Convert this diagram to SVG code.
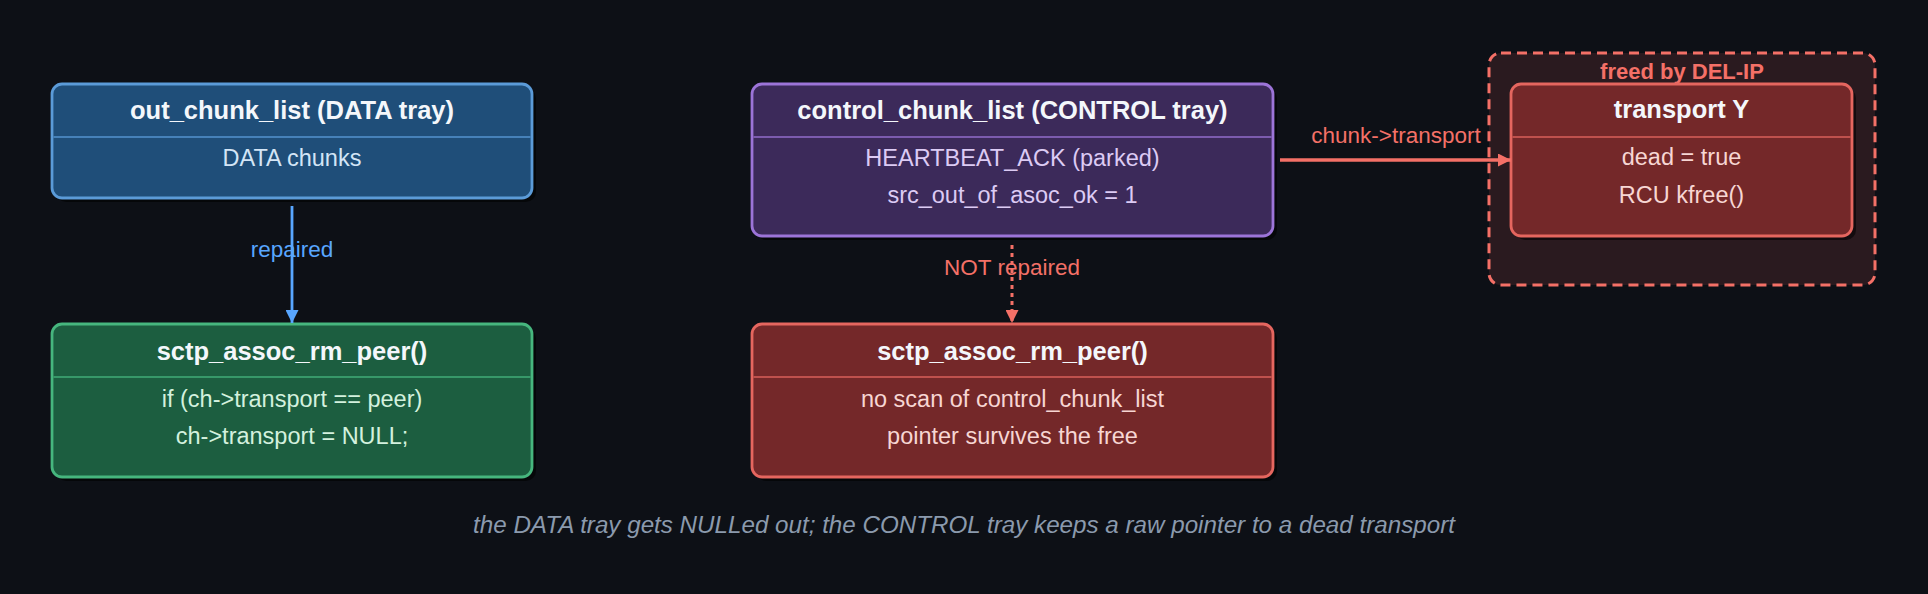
<svg xmlns="http://www.w3.org/2000/svg" width="1928" height="594" viewBox="0 0 1928 594">
<style>
  text { font-family: "Liberation Sans", Arial, sans-serif; text-anchor: middle; }
  .title { font-size: 25.5px; font-weight: bold; fill: #f4f7fb; }
  .body { font-size: 23.5px; }
  .shadow { fill: #000000; opacity: 0.55; }
  .blue .box { fill: #1f4e79; stroke: #5b9bd8; }
  .blue .div { stroke: #5b9bd8; }
  .blue .body { fill: #d3e5f6; }
  .green .box { fill: #1c5e40; stroke: #46b67e; }
  .green .div { stroke: #46b67e; }
  .green .body { fill: #d3f1de; }
  .purple .box { fill: #3c2a5a; stroke: #9c74d8; }
  .purple .div { stroke: #9c74d8; }
  .purple .body { fill: #dccbf4; }
  .red .box { fill: #742829; stroke: #e5665f; }
  .red .div { stroke: #e5665f; }
  .red .body { fill: #f7d6d3; }
  .box { stroke-width: 2.8; }
  .div { stroke-width: 1.5; opacity: 0.9; }
  .elabel { font-size: 22.5px; }
</style>
<defs>
  <marker id="arrBlue" markerUnits="userSpaceOnUse" markerWidth="13" markerHeight="13" refX="13" refY="6.5" orient="auto">
    <path d="M0,0 L13,6.5 L0,13 z" fill="#58a6ff"/>
  </marker>
  <marker id="arrRed" markerUnits="userSpaceOnUse" markerWidth="13" markerHeight="13" refX="13" refY="6.5" orient="auto">
    <path d="M0,0 L13,6.5 L0,13 z" fill="#f47067"/>
  </marker>
</defs>
<rect width="1928" height="594" fill="#0d1016"/>

<g id="group-freed">
  <rect x="1489" y="53" width="386" height="232" rx="12" fill="#2a1a1f" stroke="#f47067" stroke-width="3" stroke-dasharray="10 6"/>
  <text x="1682" y="79" style="font-size:22px;font-weight:bold;fill:#f47067">freed by DEL-IP</text>
</g>

<g id="node-out-chunk-list" class="blue">
  <rect class="shadow" x="56" y="88" width="480" height="114" rx="10"/>
  <rect class="box" x="52" y="84" width="480" height="114" rx="10"/>
  <line class="div" x1="53.5" y1="137" x2="530.5" y2="137"/>
  <text class="title" x="292" y="119">out_chunk_list (DATA tray)</text>
  <text class="body" x="292" y="166">DATA chunks</text>
</g>

<g id="node-rm-peer-data" class="green">
  <rect class="shadow" x="56" y="328" width="480" height="153" rx="10"/>
  <rect class="box" x="52" y="324" width="480" height="153" rx="10"/>
  <line class="div" x1="53.5" y1="377" x2="530.5" y2="377"/>
  <text class="title" x="292" y="360">sctp_assoc_rm_peer()</text>
  <text class="body" x="292" y="407">if (ch-&gt;transport == peer)</text>
  <text class="body" x="292" y="444">ch-&gt;transport = NULL;</text>
</g>

<g id="node-control-chunk-list" class="purple">
  <rect class="shadow" x="756" y="88" width="521" height="152" rx="10"/>
  <rect class="box" x="752" y="84" width="521" height="152" rx="10"/>
  <line class="div" x1="753.5" y1="137" x2="1271.5" y2="137"/>
  <text class="title" x="1012.5" y="119">control_chunk_list (CONTROL tray)</text>
  <text class="body" x="1012.5" y="166">HEARTBEAT_ACK (parked)</text>
  <text class="body" x="1012.5" y="203">src_out_of_asoc_ok = 1</text>
</g>

<g id="node-rm-peer-control" class="red">
  <rect class="shadow" x="756" y="328" width="521" height="153" rx="10"/>
  <rect class="box" x="752" y="324" width="521" height="153" rx="10"/>
  <line class="div" x1="753.5" y1="377" x2="1271.5" y2="377"/>
  <text class="title" x="1012.5" y="360">sctp_assoc_rm_peer()</text>
  <text class="body" x="1012.5" y="407">no scan of control_chunk_list</text>
  <text class="body" x="1012.5" y="444">pointer survives the free</text>
</g>

<g id="node-transport-y" class="red">
  <rect class="shadow" x="1515" y="88" width="341" height="152" rx="10"/>
  <rect class="box" x="1511" y="84" width="341" height="152" rx="10"/>
  <line class="div" x1="1512.5" y1="137" x2="1850.5" y2="137"/>
  <text class="title" x="1681.5" y="118">transport Y</text>
  <text class="body" x="1681.5" y="165">dead = true</text>
  <text class="body" x="1681.5" y="203">RCU kfree()</text>
</g>

<g id="connectors">
  <line x1="292" y1="206" x2="292" y2="323" stroke="#58a6ff" stroke-width="2.8" marker-end="url(#arrBlue)"/>
  <text class="elabel" x="292" y="257" fill="#58a6ff">repaired</text>

  <line x1="1012" y1="245" x2="1012" y2="323" stroke="#f47067" stroke-width="3" stroke-dasharray="4 4" marker-end="url(#arrRed)"/>
  <text class="elabel" x="1012" y="275" fill="#f47067">NOT repaired</text>

  <line x1="1280" y1="160" x2="1511" y2="160" stroke="#f47067" stroke-width="3.5" marker-end="url(#arrRed)"/>
  <text class="elabel" x="1396" y="143" fill="#f47067">chunk-&gt;transport</text>
</g>

<text x="964" y="533" style="font-size:24.2px;font-style:italic;fill:#8b9aad">the DATA tray gets NULLed out; the CONTROL tray keeps a raw pointer to a dead transport</text>
</svg>
